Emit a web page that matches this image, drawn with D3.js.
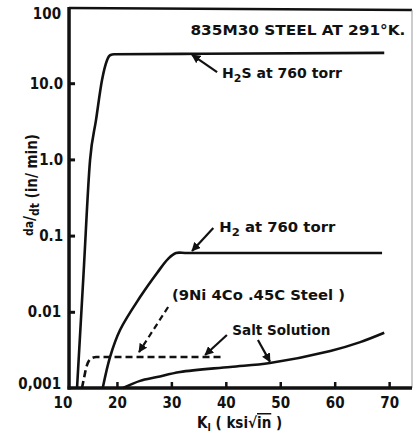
<!DOCTYPE html>
<html>
<head>
<meta charset="utf-8">
<script src="https://cdn.jsdelivr.net/npm/d3@7"></script>
<style>
  html, body { margin: 0; padding: 0; background: #fff; }
  svg { display: block; }
  text { font-family: "DejaVu Sans Condensed", "DejaVu Sans", sans-serif; font-weight: bold; fill: #111; }
</style>
</head>
<body>
<svg id="chart"></svg>
<script>
// Data (K in ksi*sqrt(in), rate in in/min)
const kTicks = [10, 20, 30, 40, 50, 60, 70];
const rateTicks = [0.001, 0.01, 0.1, 1, 10, 100];
const rateTickLabels = ["0,001", "0.01", "0.1", "1.0", "10.0", "100"];

const h2sK    = [12.67, 13.86, 15.06, 16.16, 17.26, 18.18, 18.73, 19.5, 35.3, 69.1];
const h2sRate = [0.001, 0.031, 0.98, 3.3, 11, 20, 23.3, 24, 24.3, 25];

const h2K    = [17.39, 18.73, 20.57, 24.25, 27.37, 29.4, 30.85, 33, 68.7];
const h2Rate = [0.001, 0.00255, 0.00577, 0.0156, 0.0323, 0.0495, 0.059, 0.059, 0.059];

const niK    = [13.58, 13.95, 14.5, 15.42, 16.2, 39.3];
const niRate = [0.001, 0.00135, 0.002, 0.00248, 0.00255, 0.00255];

const saltK    = [21.12, 24.25, 27.37, 31.6, 40.8, 48.1, 59.2, 64.7, 69.1];
const saltRate = [0.001, 0.00124, 0.00139, 0.00162, 0.00189, 0.00213, 0.00306, 0.0040, 0.0053];

// annotation leaders: [fromK, fromRate, toK, toRate, dashed]
const leaders = [
  [38.4, 14.0, 33.8, 23.5, false],
  [37.7, 0.126, 33.8, 0.063, false],
  [29.4, 0.01156, 24.06, 0.00296, true],
  [40.2, 0.00497, 36.2, 0.00271, false],
  [45.9, 0.00427, 48.1, 0.00222, false]
];
// labels: [text parts, K, rate, width]
const labels = [
  [[["835M30 STEEL AT 291°K."]], 33.5, 43, 215],
  [[["H"], ["2", "sub"], ["S at 760 torr"]], 39.3, 11.7, 120],
  [[["H"], ["2", "sub"], [" at 760 torr"]], 38.8, 0.111, 116],
  [[["(9Ni 4Co .45C Steel )"]], 30.1, 0.0143, 173],
  [[["Salt Solution"]], 41.2, 0.00497, 98]
];

const width = 414, height = 438;
const kMin = 11.2, kMax = 74.2;

const svg = d3.select("#chart")
  .attr("width", width)
  .attr("height", height)
  .attr("viewBox", [0, 0, width, height]);

const x = d3.scaleLinear([10, kMax], [62.5, 412]);
const y = d3.scaleLog([0.001, 100], [388, 7]);

svg.append("defs").append("marker")
  .attr("id", "head")
  .attr("viewBox", "0 0 10 10")
  .attr("refX", 9).attr("refY", 5)
  .attr("markerWidth", 9).attr("markerHeight", 9)
  .attr("markerUnits", "userSpaceOnUse")
  .attr("orient", "auto")
  .append("path")
  .attr("d", "M0,0L10,5L0,10z")
  .attr("fill", "#111");

// frame
const frame = svg.append("g").attr("stroke", "#111").attr("fill", "none");
frame.append("line")
  .attr("x1", x(kMin)).attr("x2", x(kMax))
  .attr("y1", y(100) + 1).attr("y2", y(100) + 3)
  .attr("stroke-width", 2.5);
frame.append("line")
  .attr("x1", x(kMax)).attr("x2", x(kMax))
  .attr("y1", y(100) + 3).attr("y2", y(0.001))
  .attr("stroke", "#999").attr("stroke-width", 1);
frame.append("line")
  .attr("x1", x(kMin)).attr("x2", x(kMin))
  .attr("y1", y(100)).attr("y2", y(0.001) + 1.5)
  .attr("stroke-width", 3.5);
frame.append("line")
  .attr("x1", x(kMin) - 1.5).attr("x2", x(kMax))
  .attr("y1", y(0.001)).attr("y2", y(0.001))
  .attr("stroke-width", 3.5);

// y axis
svg.append("g")
  .attr("transform", `translate(${x(kMin)},0)`)
  .call(d3.axisLeft(y).tickValues(rateTicks)
    .tickFormat((d, i) => rateTickLabels[i])
    .tickSizeInner(-6).tickSizeOuter(0).tickPadding(6))
  .call(g => g.select(".domain").remove())
  .call(g => g.selectAll(".tick line").attr("stroke", "#111").attr("stroke-width", 3))
  .call(g => g.selectAll(".tick").filter(d => d === 100 || d === 0.001).select("line").remove())
  .call(g => g.selectAll(".tick text")
    .attr("font-size", 15).attr("fill", "#111")
    .style("font-family", "'DejaVu Sans Condensed', sans-serif").style("font-weight", "bold"))
  .call(g => g.selectAll(".tick").filter(d => d === 100 || d === 0.01 || d === 0.001)
    .select("text").attr("x", -8))
  .call(g => g.selectAll(".tick").filter(d => d === 100).select("text").attr("y", 7))
  .call(g => g.selectAll(".tick").filter(d => d === 0.001).select("text").attr("y", -4));

// x axis
svg.append("g")
  .attr("transform", `translate(0,${y(0.001)})`)
  .call(d3.axisBottom(x).tickValues(kTicks)
    .tickSizeInner(-6).tickSizeOuter(0).tickPadding(9))
  .call(g => g.select(".domain").remove())
  .call(g => g.selectAll(".tick line").attr("stroke", "#111").attr("stroke-width", 2.5))
  .call(g => g.selectAll(".tick").filter(d => d === 10).select("line").remove())
  .call(g => g.selectAll(".tick text")
    .attr("font-size", 15).attr("fill", "#111")
    .style("font-family", "'DejaVu Sans Condensed', sans-serif").style("font-weight", "bold"));

// curves
const sharp = d3.line()
  .x(d => x(d[0]))
  .y(d => y(d[1]))
  .curve(d3.curveMonotoneX);
const smooth = d3.line()
  .x(d => x(d[0]))
  .y(d => y(d[1]))
  .curve(d3.curveCatmullRom.alpha(0.5));

const curves = [
  [h2sK, h2sRate, null, sharp],
  [h2K, h2Rate, null, smooth],
  [saltK, saltRate, null, smooth],
  [niK, niRate, "7,4", sharp]
];

svg.append("g")
  .selectAll("path")
  .data(curves)
  .join("path")
  .attr("d", ([K, R, , gen]) => gen(d3.zip(K, R)))
  .attr("fill", "none")
  .attr("stroke", "#111")
  .attr("stroke-width", 2.6)
  .attr("stroke-linejoin", "round")
  .attr("stroke-dasharray", d => d[2]);

// leaders
svg.append("g")
  .selectAll("line")
  .data(leaders)
  .join("line")
  .attr("x1", d => x(d[0])).attr("y1", d => y(d[1]))
  .attr("x2", d => x(d[2])).attr("y2", d => y(d[3]))
  .attr("stroke", "#111")
  .attr("stroke-width", 2.2)
  .attr("stroke-dasharray", d => d[4] ? "6,4" : null)
  .attr("marker-end", "url(#head)");

// labels
const lab = svg.append("g")
  .selectAll("text")
  .data(labels)
  .join("text")
  .attr("x", d => x(d[1]))
  .attr("y", d => y(d[2]))
  .attr("font-size", 14)
  .attr("textLength", d => d[3])
  .attr("lengthAdjust", "spacingAndGlyphs");

lab.selectAll("tspan")
  .data(d => d[0])
  .join("tspan")
  .attr("font-size", p => p[1] ? 11 : null)
  .attr("dy", (p, i, n) => p[1] ? 4 : (i > 0 && n[i - 1].__data__[1] ? -4 : null))
  .text(p => p[0]);

// x-axis title
const xt = svg.append("text")
  .attr("x", 197).attr("y", 428)
  .attr("font-size", 15);
xt.append("tspan").text("K");
xt.append("tspan").attr("font-size", 10).attr("dy", 3).text("I");
xt.append("tspan").attr("dy", -3).text(" ( ksi√");
xt.append("tspan").attr("text-decoration", "overline").text("in");
xt.append("tspan").text(" )");

// y-axis title
const yt = svg.append("text")
  .attr("transform", "translate(37,185) rotate(-90)")
  .attr("text-anchor", "middle")
  .attr("font-size", 15);
yt.append("tspan").attr("font-size", 12).attr("dy", -4).text("da");
yt.append("tspan").attr("dy", 2).text("/");
yt.append("tspan").attr("font-size", 12).attr("dy", 4).text("dt");
yt.append("tspan").attr("dy", -2).text(" (in/ min)");
</script>
</body>
</html>
